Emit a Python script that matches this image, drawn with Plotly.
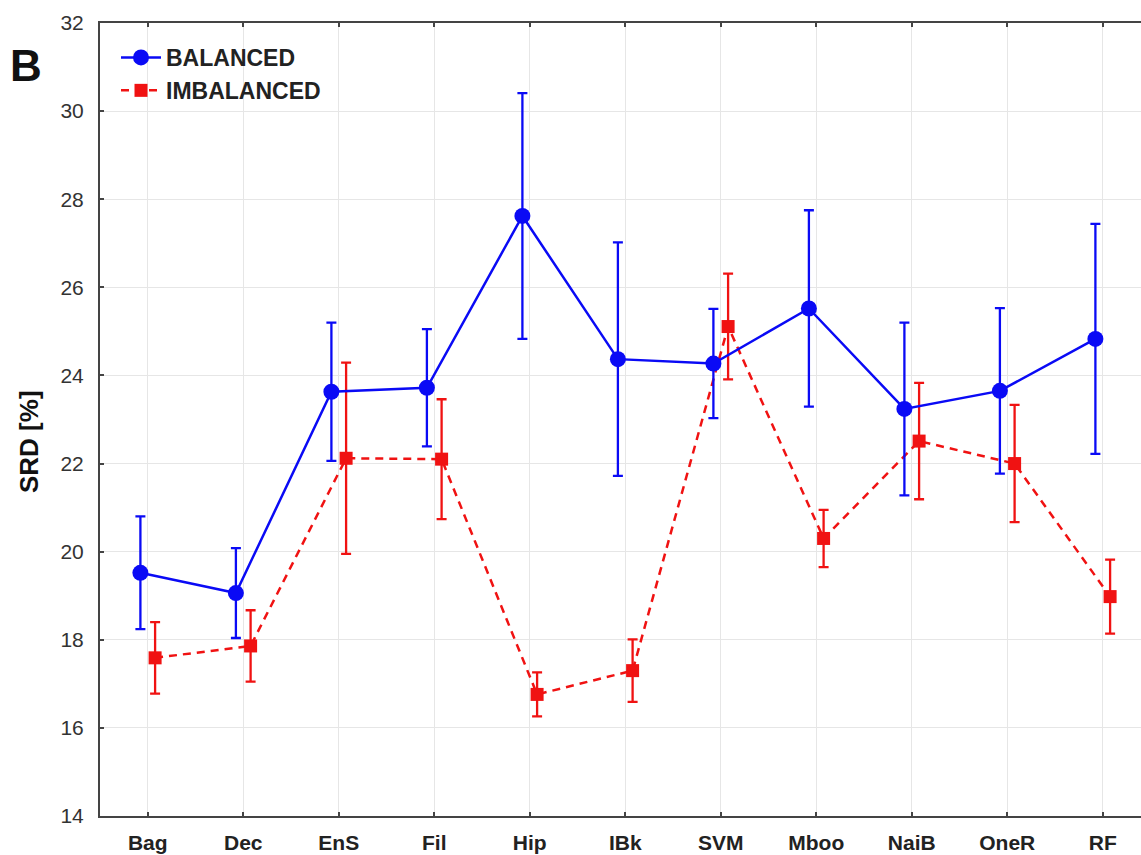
import plotly.graph_objects as go

categories = ["Bag", "Dec", "EnS", "Fil", "Hip", "IBk", "SVM", "Mboo", "NaiB", "OneR", "RF"]
balanced = [19.52, 19.06, 23.63, 23.72, 27.62, 24.37, 24.27, 25.52, 23.24, 23.65, 24.83]
balanced_err = [1.28, 1.02, 1.57, 1.33, 2.79, 2.65, 1.24, 2.23, 1.96, 1.88, 2.61]
imbalanced = [17.59, 17.86, 22.12, 22.10, 16.76, 17.30, 25.11, 20.30, 22.51, 22.00, 18.98]
imbalanced_err = [0.81, 0.81, 2.17, 1.36, 0.50, 0.71, 1.20, 0.65, 1.32, 1.33, 0.84]
y_ticks = [14, 16, 18, 20, 22, 24, 26, 28, 30, 32]

BLUE = "#0a0af5"
RED = "#f01212"
FONT = "Liberation Sans, Arial, sans-serif"

W, H = 1141, 855
L, R, T, B = 100, 0, 23, 39
pw = W - L - R
ph = H - T - B

idx = list(range(len(categories)))
off = 0.077

fig = go.Figure()
fig.add_trace(go.Scatter(
    x=[i + off for i in idx], y=imbalanced, name="IMBALANCED",
    mode="lines+markers",
    line=dict(color=RED, width=2.5, dash="8px,6px"),
    marker=dict(symbol="square", size=13, color=RED),
    error_y=dict(type="data", array=imbalanced_err, color=RED, thickness=2.3, width=5),
    legendrank=2,
))
fig.add_trace(go.Scatter(
    x=[i - off for i in idx], y=balanced, name="BALANCED",
    mode="lines+markers",
    line=dict(color=BLUE, width=2.5),
    marker=dict(symbol="circle", size=16, color=BLUE),
    error_y=dict(type="data", array=balanced_err, color=BLUE, thickness=2.3, width=5),
    legendrank=1,
))

# pixel (px, py) -> paper coords
def px2paper(px, py):
    return (px - L) / pw, (H - B - py) / ph

bx, by = px2paper(26, 66)
sx, sy = px2paper(29, 442)
lx, ly = px2paper(116, 36)

fig.update_layout(
    width=W, height=H,
    margin=dict(l=L, r=R, t=T, b=B, pad=0),
    paper_bgcolor="white", plot_bgcolor="white",
    font=dict(family=FONT, color="#222222"),
    showlegend=True,
    legend=dict(
        x=lx, y=ly, xanchor="left", yanchor="top",
        bgcolor="rgba(255,255,255,0)", borderwidth=0,
        font=dict(size=23, family=FONT, color="#222222", weight="bold"),
        itemwidth=40, tracegroupgap=0,
    ),
    xaxis=dict(
        range=[-0.5, -0.5 + pw / 95.5],
        tickmode="array", tickvals=idx, ticktext=categories,
        showgrid=True, gridcolor="#e6e6e6", gridwidth=1,
        showline=True, linecolor="#444444", linewidth=2, mirror="ticks",
        ticks="inside", ticklen=4, tickwidth=1.5, tickcolor="#444444",
        tickfont=dict(size=21, family=FONT, color="#222222", weight="bold"),
        ticklabelstandoff=7,
        zeroline=False,
    ),
    yaxis=dict(
        range=[14, 32], tickmode="array", tickvals=y_ticks,
        showgrid=True, gridcolor="#e6e6e6", gridwidth=1,
        showline=True, linecolor="#444444", linewidth=2, mirror=False,
        ticks="inside", ticklen=4, tickwidth=1.5, tickcolor="#444444",
        tickfont=dict(size=21, family=FONT, color="#333333"),
        ticklabelstandoff=10,
        zeroline=False,
    ),
    annotations=[
        dict(text="<b>B</b>", x=bx, y=by, xref="paper", yref="paper",
             showarrow=False, font=dict(size=44, family=FONT, color="#111111"),
             xanchor="center", yanchor="middle"),
        dict(text="<b>SRD [%]</b>", x=sx, y=sy, xref="paper", yref="paper",
             showarrow=False, textangle=-90,
             font=dict(size=26, family=FONT, color="#111111"),
             xanchor="center", yanchor="middle"),
    ],
)

fig.write_html("out.html")
